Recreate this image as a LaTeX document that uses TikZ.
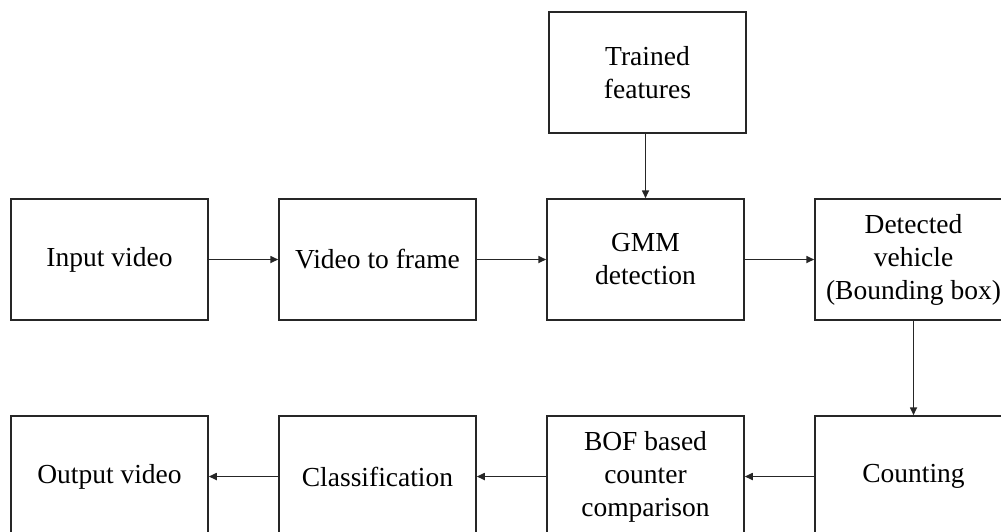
\documentclass[tikz,border=0pt]{standalone}
\usepackage{fontspec}
\setmainfont{Liberation Serif}
\usetikzlibrary{arrows.meta}
\begin{document}
\begin{tikzpicture}[x=1pt,y=-1pt,
  blk/.style={draw=black!85, line width=1.5pt, minimum width=197pt, minimum height=121pt, inner sep=0pt, align=center, font=\fontsize{27.5}{33}\selectfont},
  conn/.style={draw=black!85, line width=1.6pt, -{Triangle[length=8pt,width=7pt]}}]
\useasboundingbox (0,0) rectangle (1001,531);
\clip (0,0) rectangle (1001,531);
\node[blk] (tf) at (647.5,72.5) {Trained\\features};
\node[blk] (in) at (109.5,259.5) {Input video};
\node[blk] (vf) at (377.5,259.5) {Video to frame};
\node[blk] (gmm) at (645.5,259.5) {GMM\\detection};
\node[blk] (dv) at (913.5,259.5) {Detected\\vehicle\\(Bounding box)};
\node[blk] (out) at (109.5,476.5) {Output video};
\node[blk] (cl) at (377.5,476.5) {Classification};
\node[blk] (bof) at (645.5,476.5) {BOF based\\counter\\comparison};
\node[blk] (cnt) at (913.5,476.5) {Counting};
\draw[conn] (tf.south -| gmm.north) -- (gmm.north);
\draw[conn] (in) -- (vf);
\draw[conn] (vf) -- (gmm);
\draw[conn] (gmm) -- (dv);
\draw[conn] (dv) -- (cnt);
\draw[conn] (cnt) -- (bof);
\draw[conn] (bof) -- (cl);
\draw[conn] (cl) -- (out);
\end{tikzpicture}
\end{document}
